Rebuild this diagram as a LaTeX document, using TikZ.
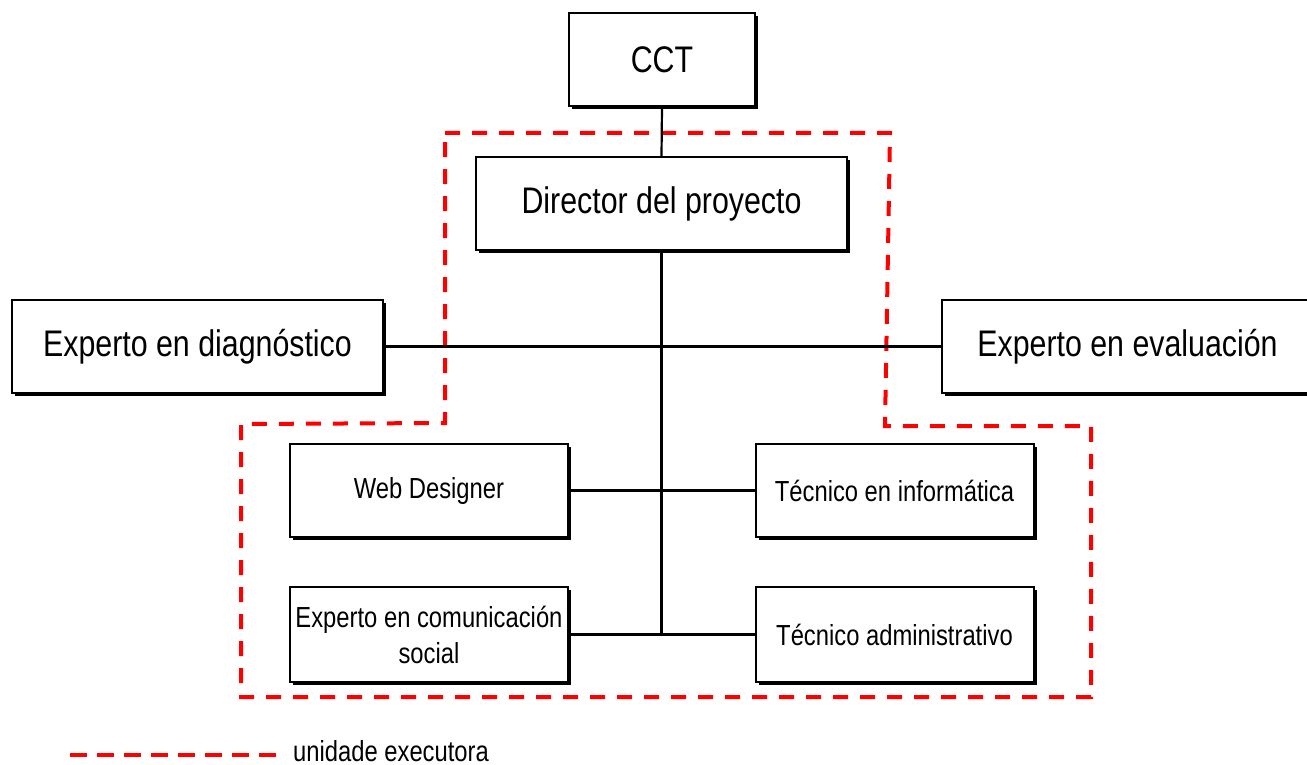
\documentclass[tikz,border=0pt]{standalone}
\usepackage{fontspec}
\setmainfont{Liberation Sans}[FakeStretch=0.82]
\usetikzlibrary{shadows}
\begin{document}
\begin{tikzpicture}[x=1pt,y=-1pt,
  orgbox/.style={draw=black, line width=2pt, fill=white, inner sep=0pt, align=center,
    drop shadow={shadow xshift=3pt, shadow yshift=-3pt, opacity=1, fill=black}},
  bigbox/.style={orgbox, minimum width=371pt, minimum height=93pt, font=\fontsize{37}{44}\selectfont},
  smallbox/.style={orgbox, minimum width=278pt, minimum height=93pt, font=\fontsize{29}{36}\selectfont},
  conn/.style={draw=black, line width=2.2pt},
  unit/.style={draw=red, line width=4pt, dash pattern=on 15pt off 12pt},
  legdash/.style={draw=red, line width=4pt, dash pattern=on 17pt off 10pt},
]
\useasboundingbox (0,0) rectangle (1307,765);

% executing unit boundary (drawn first, behind boxes)
\draw[unit] (445,133) -- (890,133) -- (885,426) -- (1091,426) -- (1091,697)
  -- (241,697) -- (241,424) -- (445,423) -- cycle;

\node[orgbox, minimum width=186pt, minimum height=93pt, font=\fontsize{37}{44}\selectfont] (cct) at (662,59.5) {CCT};
\node[bigbox] (dir) at (661.5,203.5) {Director del proyecto};
\node[bigbox] (diag) at (197.5,346.5) {Experto en diagn\'ostico};
\node[bigbox] (eval) at (1127.5,346.5) {Experto en evaluaci\'on};
\node[smallbox] (web) at (429,490.5) {Web Designer};
\node[smallbox] (info) at (894.5,490.5) {T\'ecnico en inform\'atica};
\node[smallbox, minimum height=95pt] (com) at (429,634.5) {Experto en comunicaci\'on\\social};
\node[smallbox, minimum height=95pt] (adm) at (894.5,634.5) {T\'ecnico administrativo};

\coordinate (junc) at (dir.south |- com.east);

\draw[conn] (cct.south) -- (dir.north);
\draw[conn] (dir.south) -- (junc);
\draw[conn] (diag.east) -- (eval.west);
\draw[conn] (web.east) -- (info.west);
\draw[conn] (com.east) -- (adm.west);

% legend
\node[anchor=west, inner sep=0pt, font=\fontsize{29}{36}\selectfont] (leg) at (293,751) {unidade executora};
\coordinate (legstart) at (70,755);
\coordinate (legend) at (283,755);
\draw[legdash] (legstart) -- (legend);
\end{tikzpicture}
\end{document}
